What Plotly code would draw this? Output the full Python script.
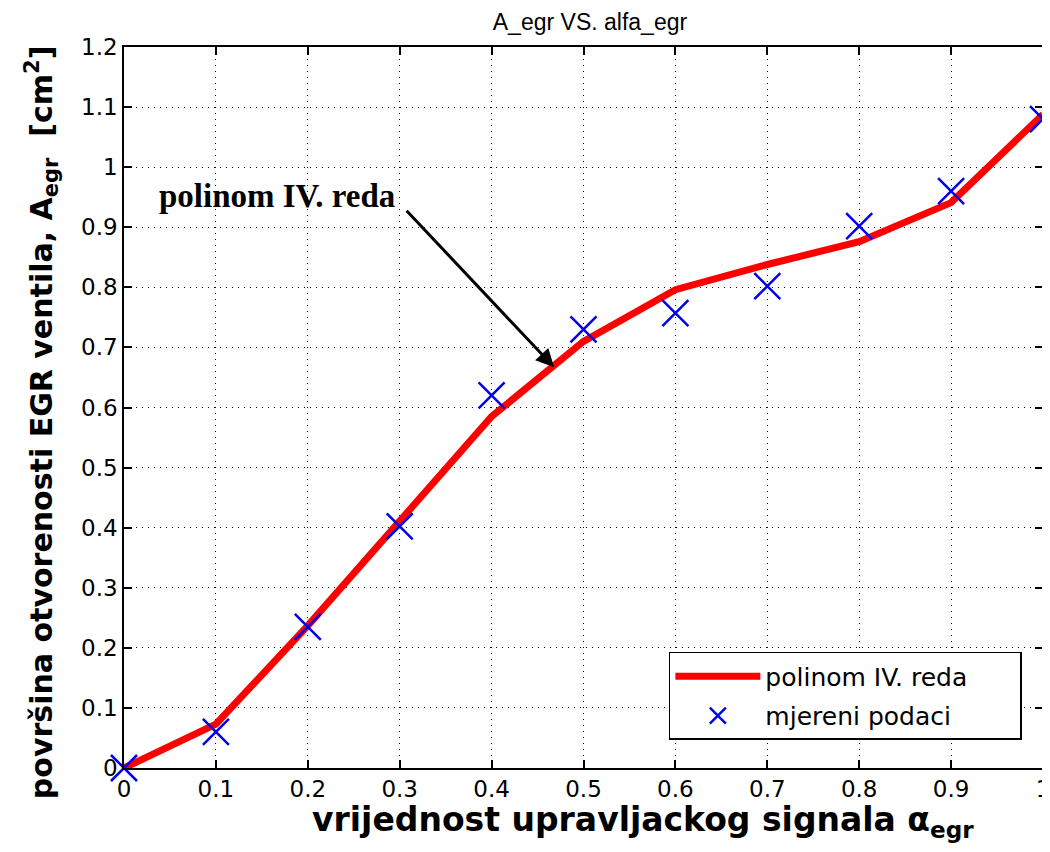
import plotly.graph_objects as go

# alfa_egr values (control signal)
alfa = [0, 0.1, 0.2, 0.3, 0.4, 0.5, 0.6, 0.7, 0.8, 0.9, 1.0]
# measured valve opening area [cm2]
a_measured = [0.0, 0.06, 0.235, 0.402, 0.62, 0.73, 0.757, 0.802, 0.902, 0.96, 1.08]
# 4th order polynomial fit evaluated at the same points
a_poly = [0.0, 0.073, 0.237, 0.41, 0.585, 0.71, 0.796, 0.838, 0.876, 0.941, 1.088]

x_ticks = [0, 0.1, 0.2, 0.3, 0.4, 0.5, 0.6, 0.7, 0.8, 0.9, 1]
y_ticks = [0, 0.1, 0.2, 0.3, 0.4, 0.5, 0.6, 0.7, 0.8, 0.9, 1, 1.1, 1.2]

PAD = '\u00a0' * 6  # right padding inside the legend box


def make_figure():
    fig = go.Figure()
    fig.add_trace(go.Scatter(x=alfa, y=a_poly, mode='lines', name='polinom IV. reda' + PAD,
                             legendgroup='fit',
                             line=dict(color='#ff0000', width=7), cliponaxis=False))
    fig.add_trace(go.Scatter(x=alfa, y=a_measured, mode='markers', name='mjereni podaci',
                             legendgroup='data',
                             marker=dict(symbol='x-thin', size=26, color='#0000ee',
                                         line=dict(color='#0000ee', width=2.5)),
                             cliponaxis=False))

    axis_style = dict(showline=True, linecolor='black', linewidth=1.5, mirror='ticks',
                      ticks='inside', ticklen=8, tickcolor='black', tickwidth=1.5,
                      showgrid=True, gridcolor='black', gridwidth=1, griddash='1px,5px',
                      zeroline=False, automargin=False, ticklabeloverflow='allow',
                      tickfont=dict(family='DejaVu Sans', size=23, color='black'))

    fig.update_xaxes(range=[0, 1], tickvals=x_ticks, ticktext=[str(v) for v in x_ticks], **axis_style)
    fig.update_yaxes(range=[0, 1.2], tickvals=y_ticks, ticktext=[str(v) for v in y_ticks], **axis_style)

    # axis titles
    fig.add_annotation(x=0.565, y=-0.042, xref='paper', yref='paper', xanchor='center', yanchor='top',
                       text='<b>vrijednost upravljackog signala α<sub>egr</sub></b>', showarrow=False,
                       font=dict(family='DejaVu Sans', size=33, color='black'))
    fig.add_annotation(x=-0.089, y=0.48, xref='paper', yref='paper', xanchor='center', yanchor='middle',
                       textangle=-90, showarrow=False,
                       text='<b>površina otvorenosti EGR ventila, A<sub>egr</sub>  [cm<sup>2</sup>]</b>',
                       font=dict(family='DejaVu Sans', size=30, color='black'))

    fig.add_annotation(x=0.468, y=0.667, ax=0.306, ay=0.93, xref='x', yref='y', axref='x', ayref='y',
                       text='', showarrow=True, arrowhead=2, arrowsize=1.2, arrowwidth=3, arrowcolor='black')
    fig.add_annotation(x=0.166, y=0.952, xref='x', yref='y', text='<b>polinom IV. reda</b>',
                       showarrow=False, font=dict(family='Liberation Serif, Times New Roman', size=33, color='black'))

    fig.update_layout(
        width=1042, height=844,
        margin=dict(l=116, r=7, t=39, b=84),
        paper_bgcolor='white', plot_bgcolor='white',
        title=dict(text='A_egr VS. alfa_egr', x=0.5585, xanchor='center', y=0.983, yanchor='middle',
                   font=dict(family='Liberation Sans, Arial', size=23, color='black')),
        legend=dict(x=0.977, y=0.039, xanchor='right', yanchor='bottom',
                    bgcolor='white', bordercolor='black', borderwidth=1.5,
                    itemwidth=85, tracegroupgap=4,
                    font=dict(family='DejaVu Sans', size=25, color='black')),
    )
    return fig


def main():
    fig = make_figure()
    fig.write_html('out.html')


if __name__ == '__main__':
    main()
